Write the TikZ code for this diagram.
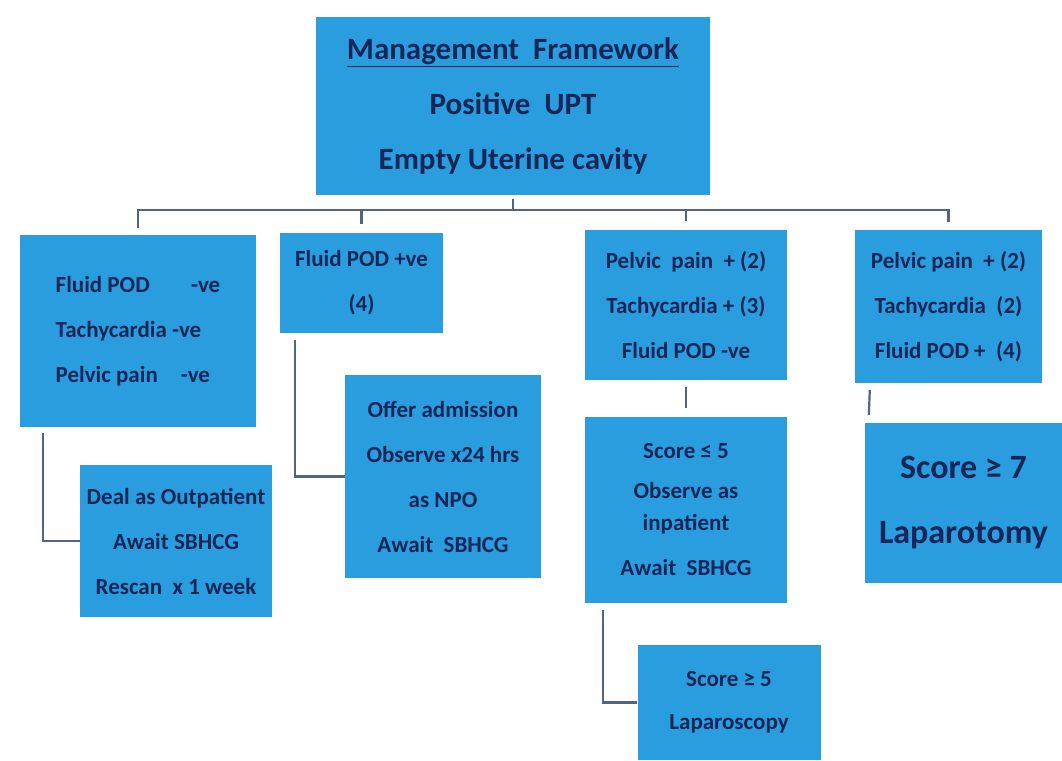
\documentclass[tikz,border=0pt]{standalone}
\usepackage{fontspec}
\setmainfont{Carlito}
\usetikzlibrary{calc}
\definecolor{boxblue}{RGB}{41,157,222}
\definecolor{inkblue}{RGB}{22,38,88}
\definecolor{linkgray}{RGB}{80,100,135}
\tikzstyle{framebox}=[rectangle,fill=boxblue,inner sep=0pt,text=inkblue,font=\bfseries\fontsize{23}{45}\selectfont,align=center]
\tikzstyle{link}=[draw=linkgray,line width=2.2pt]

\begin{document}
\begin{tikzpicture}[x=1pt,y=-1pt]

    \useasboundingbox[fill=white] (0,0) rectangle (1062,760);

    % top box
    \node[framebox, minimum width=394pt, minimum height=178pt, font=\bfseries\fontsize{31}{55}\selectfont] (m0) at (513,106)
        {\underline{Management\ \ Framework}\\Positive\ \ UPT\\Empty Uterine cavity};

    % first row
    \node[framebox, align=left, minimum width=236pt, minimum height=192pt] (r1) at (138,331)
        {Fluid POD\hspace{1.8em}-ve\\Tachycardia -ve\\Pelvic pain\hspace{1.0em}-ve};

    \foreach \pos/\name/\w/\h/\label in {{(361.5,283)/r2/163/100/{Fluid POD +ve\\(4)}},
        {(686,305)/r3/202/150/{Pelvic\ \ pain\ \ + (2)\\Tachycardia + (3)\\Fluid POD -ve}},
        {(948.5,306.5)/r4/187/153/{Pelvic pain\ \ + (2)\\Tachycardia\ \ (2)\\Fluid POD +\ \ (4)}}}
        \node[framebox, minimum width=\w pt, minimum height=\h pt] (\name) at \pos {\label};

    % second row
    \foreach \pos/\name/\w/\h/\label in {{(176,541)/s1/192/152/{Deal as Outpatient\\Await SBHCG\\Rescan\ \ x 1 week}},
        {(443,476.5)/s2/196/203/{Offer admission\\Observe x24 hrs\\as NPO\\Await\ \ SBHCG}}}
        \node[framebox, minimum width=\w pt, minimum height=\h pt] (\name) at \pos {\label};

    \node[framebox, minimum width=202pt, minimum height=186pt, font=\bfseries\fontsize{23}{32}\selectfont] (s3) at (686,510)
        {Score ≤ 5\\[8pt]Observe as\\inpatient\\[13pt]Await\ \ SBHCG};
    \node[framebox, minimum width=197pt, minimum height=160pt, font=\bfseries\fontsize{34}{65}\selectfont] (s4) at (963.5,503)
        {Score ≥ 7\\Laparotomy};
    \node[framebox, minimum width=183pt, minimum height=115pt, font=\bfseries\fontsize{23}{43}\selectfont] (s5) at (729,702.5)
        {Score ≥ 5\\Laparoscopy};

    % connectors
    \coordinate (bus) at (513,210);
    \draw[link] ([yshift=-4pt]m0.south) -- (bus);
    \draw[link] ([yshift=7pt]r1.north) |- (bus) -| ([yshift=8pt]r4.north);
    \foreach \name in {r2,r3}
        \draw[link] (bus -| \name.north) -- ([yshift=9pt]\name.north);

    \draw[link] ([xshift=23pt,yshift=-6pt]r1.south west) |- (s1.west);
    \draw[link] ([xshift=15pt,yshift=-7pt]r2.south west) |- (s2.west);
    \draw[link] ([yshift=-7pt]r3.south) -- ([yshift=9pt]s3.north);
    \draw[link] ([xshift=15pt,yshift=-7pt]r4.south west) -- ([xshift=4pt,yshift=8pt]s4.north west);
    \draw[link] ([xshift=18pt,yshift=-7pt]s3.south west) |- (s5.west);

\end{tikzpicture}
\end{document}
